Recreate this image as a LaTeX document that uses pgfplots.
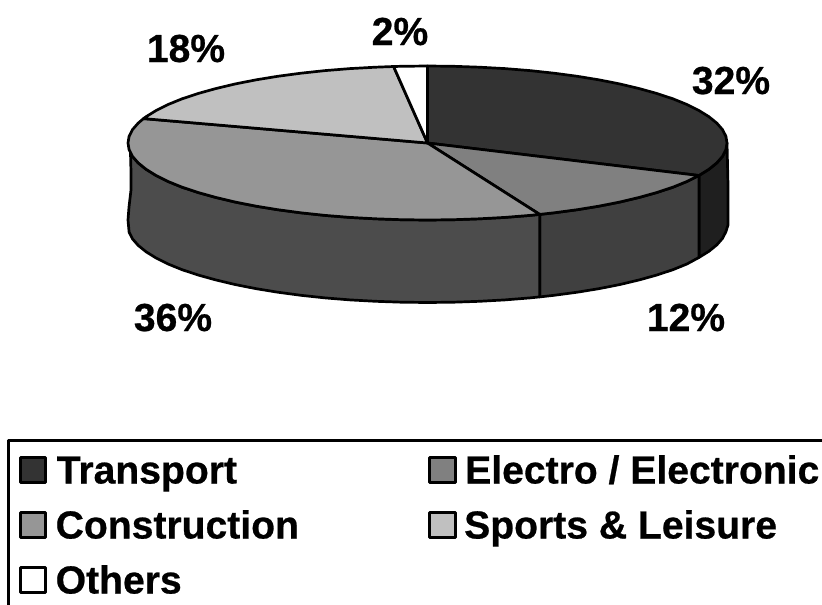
\documentclass[border=0pt]{standalone}
\usepackage{pgfplots}
\pgfplotsset{compat=1.18}
\usepackage{fontspec}
\setmainfont[BoldFeatures={FakeBold=0.6}]{Liberation Sans}
\definecolor{cTrans}{HTML}{333333}
\definecolor{cElec}{HTML}{808080}
\definecolor{cCons}{HTML}{969696}
\definecolor{cSport}{HTML}{C0C0C0}
\definecolor{wTrans}{HTML}{1F1F1F}
\definecolor{wElec}{HTML}{404040}
\definecolor{wCons}{HTML}{4C4C4C}
\newcommand{\lab}{\fontsize{39.1}{40}\selectfont\bfseries}
\begin{document}
\begin{tikzpicture}
\begin{axis}[
  width=822pt,height=605pt,scale only axis,
  xmin=0,xmax=822,ymin=0,ymax=605,y dir=reverse,
  hide axis,
  every axis plot/.append style={mark=none,line join=round,line cap=round,line width=2.7pt,draw=black,solid},
]
% page background
\addplot[draw=none,fill=white] coordinates {(0,0)(822,0)(822,605)(0,605)(0,0)};
% side walls
\addplot[fill=wTrans] coordinates {(727,143)(725.9,149.7)(722.5,156.4)(716.8,162.9)(708.9,169.3)(698.9,175.5)
 (698.9,257.5)(708.9,251.3)(716.8,244.9)(722.5,238.4)(725.9,231.7)(728,225)(728,185)(727,143)};
\addplot[fill=wElec] coordinates {(698.9,175.5)(686.9,181.5)(672.9,187.2)(656.9,192.5)(639.3,197.4)(620,202)(599.3,206.1)(577.3,209.7)(554.1,212.8)(539.7,214.4)
 (539.7,296.9)(554.1,295.3)(577.3,292.2)(599.3,288.6)(620,284.5)(639.3,279.9)(656.9,275)(672.9,269.7)(686.9,264)(698.9,257.5)(698.9,175.5)};
\addplot[fill=wCons] coordinates {(539.7,214.4)(529.9,215.4)(505,217.4)(479.5,218.8)(453.6,219.7)(427.5,220)(401.4,219.7)(375.5,218.8)(350,217.4)(325.1,215.4)(300.9,212.8)(277.7,209.7)(255.7,206.1)(235,202)(215.7,197.4)(198.1,192.5)(182.1,187.2)(168.1,181.5)(156.1,175.5)(146.1,169.3)(138.2,162.9)(132.5,156.4)(130.5,153)
 (131,172)(131,190)(129,207)(128,220)(129.1,232.2)(132.5,238.9)(138.2,245.4)(146.1,251.8)(156.1,258)(168.1,264)(182.1,269.7)(198.1,275)(215.7,279.9)(235,284.5)(255.7,288.6)(277.7,292.2)(300.9,295.3)(325.1,297.9)(350,299.9)(375.5,301.3)(401.4,302.2)(427.5,302.5)(453.6,302.2)(479.5,301.3)(505,299.9)(529.9,297.9)(539.7,296.9)(539.7,214.4)};
% top faces
\addplot[fill=cTrans] coordinates {(427.5,143)(427.5,66)(453.6,66.3)(479.5,67.2)(505,68.6)(529.9,70.6)(554.1,73.2)(577.3,76.3)(599.3,79.9)(620,84)(639.3,88.6)(656.9,93.5)(672.9,98.8)(686.9,104.5)(698.9,110.5)(708.9,116.7)(716.8,123.1)(722.5,129.6)(725.9,136.3)(727,143)(725.9,149.7)(722.5,156.4)(716.8,162.9)(708.9,169.3)(698.9,175.5)(427.5,143)};
\addplot[fill=cElec] coordinates {(427.5,143)(698.9,175.5)(686.9,181.5)(672.9,187.2)(656.9,192.5)(639.3,197.4)(620,202)(599.3,206.1)(577.3,209.7)(554.1,212.8)(539.7,214.4)(427.5,143)};
\addplot[fill=cCons] coordinates {(427.5,143)(539.7,214.4)(529.9,215.4)(505,217.4)(479.5,218.8)(453.6,219.7)(427.5,220)(401.4,219.7)(375.5,218.8)(350,217.4)(325.1,215.4)(300.9,212.8)(277.7,209.7)(255.7,206.1)(235,202)(215.7,197.4)(198.1,192.5)(182.1,187.2)(168.1,181.5)(156.1,175.5)(146.1,169.3)(138.2,162.9)(132.5,156.4)(129.1,149.7)(128,143)(129.1,136.3)(132.5,129.6)(138.2,123.1)(143.5,118.6)(427.5,143)};
\addplot[fill=cSport] coordinates {(427.5,143)(143.5,118.6)(146.1,116.7)(156.1,110.5)(168.1,104.5)(182.1,98.8)(198.1,93.5)(215.7,88.6)(235,84)(255.7,79.9)(277.7,76.3)(300.9,73.2)(325.1,70.6)(350,68.6)(375.5,67.2)(393.6,66.5)(427.5,143)};
\addplot[fill=white] coordinates {(427.5,143)(393.6,66.5)(401.4,66.3)(427.5,66)(427.5,143)};
% legend frame
\addplot[line cap=butt] coordinates {(8.5,610)(8.5,440.5)(830,440.5)};
% legend keys
\addplot[fill=cTrans] coordinates {(20.5,457.5)(45.5,457.5)(45.5,482.5)(20.5,482.5)(20.5,457.5)};
\addplot[fill=cCons] coordinates {(20.5,512.5)(45.5,512.5)(45.5,537.5)(20.5,537.5)(20.5,512.5)};
\addplot[fill=white] coordinates {(20.5,567.5)(45.5,567.5)(45.5,592.5)(20.5,592.5)(20.5,567.5)};
\addplot[fill=cElec] coordinates {(429.5,457.5)(455.5,457.5)(455.5,482.5)(429.5,482.5)(429.5,457.5)};
\addplot[fill=cSport] coordinates {(429.5,512.5)(455.5,512.5)(455.5,537.5)(429.5,537.5)(429.5,512.5)};
% labels
\node[anchor=base west,inner sep=0pt] at (axis cs:56.5,483.5) {\lab Transport};
\node[anchor=base west,inner sep=0pt] at (axis cs:55.5,538.5) {\lab Construction};
\node[anchor=base west,inner sep=0pt] at (axis cs:55.5,593.5) {\lab Others};
\node[anchor=base west,inner sep=0pt] at (axis cs:465,483.5) {\lab Electro / Electronic};
\node[anchor=base west,inner sep=0pt] at (axis cs:464,538.5) {\lab Sports \& Leisure};
\node[anchor=base,inner sep=0pt] at (axis cs:400,45) {\lab 2\%};
\node[anchor=base,inner sep=0pt] at (axis cs:186,62) {\lab 18\%};
\node[anchor=base,inner sep=0pt] at (axis cs:731,94) {\lab 32\%};
\node[anchor=base,inner sep=0pt] at (axis cs:173,331) {\lab 36\%};
\node[anchor=base,inner sep=0pt] at (axis cs:686,331) {\lab 12\%};
\end{axis}
\end{tikzpicture}
\end{document}
